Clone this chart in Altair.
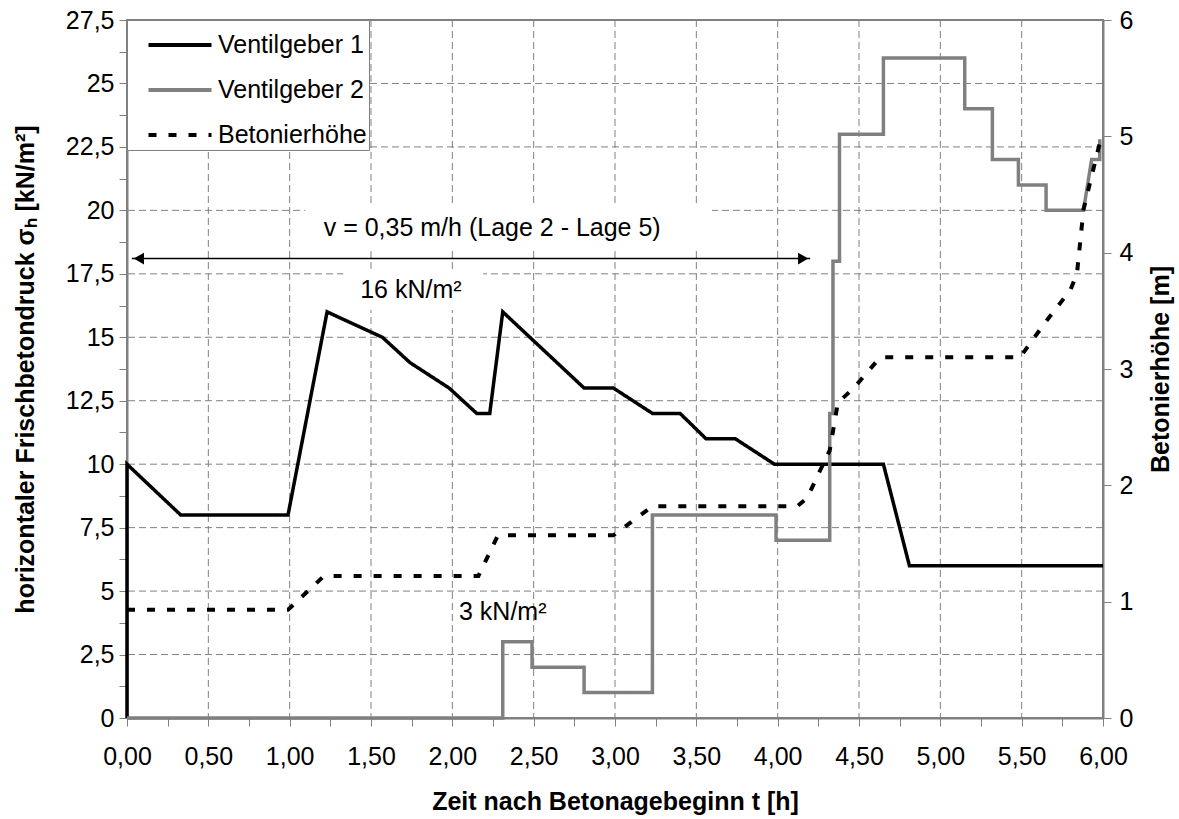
import altair as alt
import pandas as pd

# ---- data ----
v1_t = [0.0, 0.0, 0.33, 0.99, 1.23, 1.57, 1.74, 1.98, 2.15, 2.23, 2.31, 2.81, 2.99, 3.23, 3.40, 3.56, 3.74, 3.98, 4.65, 4.81, 6.0]
v1_p = [0, 10, 8, 8, 16, 15, 14, 13, 12, 12, 16, 13, 13, 12, 12, 11, 11, 10, 10, 6, 6]

v2_t = [0.0, 2.31, 2.31, 2.49, 2.49, 2.81, 2.81, 3.23, 3.23, 3.99, 3.99, 4.32, 4.32, 4.34, 4.34, 4.38, 4.38,
        4.65, 4.65, 5.15, 5.15, 5.32, 5.32, 5.48, 5.48, 5.65, 5.65, 5.88, 5.93, 5.98, 5.98]
v2_p = [0, 0, 3, 3, 2, 2, 1, 1, 8, 8, 7, 7, 12, 12, 18, 18, 23,
        23, 26, 26, 24, 24, 22, 22, 21, 21, 20, 20, 22, 22, 22.8]

b_t = [0.0, 0.99, 1.21, 2.16, 2.28, 2.99, 3.23, 4.12, 4.18, 4.32, 4.37, 4.47, 4.63, 5.49, 5.65, 5.80, 5.84, 5.88, 5.99]
b_h = [0.93, 0.93, 1.22, 1.22, 1.57, 1.57, 1.82, 1.82, 1.89, 2.30, 2.71, 2.84, 3.10, 3.10, 3.41, 3.68, 3.82, 4.37, 5.0]

series = ["Ventilgeber 1", "Ventilgeber 2", "Betonierhöhe"]

x_ticks = [i * 0.25 for i in range(25)]
y_ticks = [i * 1.25 for i in range(23)]
r_ticks = [0, 1, 2, 3, 4, 5, 6]
x_grid = [0.5, 1.0, 1.5, 2.0, 2.5, 3.0, 3.5, 4.0, 4.5, 5.0, 5.5]
y_grid = [2.5, 5, 7.5, 10, 12.5, 15, 17.5, 20, 22.5, 25]

ann_text = ["v = 0,35 m/h (Lage 2 - Lage 5)", "16 kN/m²", "3 kN/m²"]
ann_x = [2.245, 1.745, 2.31]
ann_y = [19.3, 16.85, 4.18]

# white label boxes behind the first two annotations (as in the reference)
box_x1 = [1.094, 1.33]
box_x2 = [3.596, 2.19]
box_y1 = [18.45, 16.07]
box_y2 = [20.2, 17.65]

arrow_x1 = [0.03]
arrow_x2 = [4.2]
arrow_y = [18.1]

# ---- tables ----
df_v = pd.DataFrame({
    "t": v1_t + v2_t,
    "p": v1_p + v2_p,
    "s": [series[0]] * len(v1_t) + [series[1]] * len(v2_t),
    "i": list(range(len(v1_t))) + list(range(len(v2_t))),
})
df_b = pd.DataFrame({"t": b_t, "h": b_h, "s": series[2], "i": list(range(len(b_t)))})
df_gx = pd.DataFrame({"t": x_grid})
df_gy = pd.DataFrame({"p": y_grid})
df_ann = pd.DataFrame({"t": ann_x, "p": ann_y, "txt": ann_text})
df_box = pd.DataFrame({"t": box_x1, "t2": box_x2, "p": box_y1, "p2": box_y2})
df_arrow = pd.DataFrame({"t": arrow_x1, "t2": arrow_x2, "p": arrow_y})

FONT = "Liberation Sans"
GRAY = "#808080"

xscale = alt.Scale(domain=[0, 6], nice=False, zero=False)
yscale = alt.Scale(domain=[0, 27.5], nice=False)
rscale = alt.Scale(domain=[0, 6], nice=False)

color = alt.Color("s:N", scale=alt.Scale(domain=series, range=["#000000", GRAY, "#000000"]),
                  legend=alt.Legend(title=None, orient="none", legendX=0, legendY=0,
                                    fillColor="white", strokeColor=GRAY, padding=2,
                                    symbolType="M-1.5,0H1.5", symbolSize=1764, symbolStrokeWidth=4,
                                    symbolOffset=28, labelOffset=15,
                                    labelFont=FONT, labelFontSize=25, labelColor="black",
                                    rowPadding=9, labelLimit=400))
dash = alt.StrokeDash("s:N", scale=alt.Scale(domain=series, range=[[1, 0], [1, 0], [8, 12]]),
                      legend=alt.Legend(title=None))

x_axis = alt.Axis(values=x_ticks, grid=False,
                  labelExpr="datum.value % 0.5 == 0 ? replace(format(datum.value, '.2f'), '.', ',') : ''",
                  title="Zeit nach Betonagebeginn t [h]", titlePadding=20,
                  tickSize=8, labelPadding=18, labelFlush=False, labelOverlap=False)
y_axis = alt.Axis(values=y_ticks, grid=False,
                  labelExpr="datum.value % 2.5 == 0 ? replace(toString(datum.value), '.', ',') : ''",
                  title="horizontaler Frischbetondruck σₕ [kN/m²]", titlePadding=27,
                  tickSize=8, labelPadding=5, labelOverlap=False, labelFlush=False)
r_axis = alt.Axis(values=r_ticks, grid=False, orient="right",
                  title="Betonierhöhe [m]", titleAngle=270, titleBaseline="top", titlePadding=16,
                  tickSize=8, labelPadding=8, labelFlush=False)

X = alt.X("t:Q", scale=xscale, axis=x_axis)
Y = alt.Y("p:Q", scale=yscale, axis=y_axis)

grid_v = alt.Chart(df_gx).mark_rule(color=GRAY, strokeWidth=1, strokeDash=[7, 4]).encode(x=X)
grid_h = alt.Chart(df_gy).mark_rule(color=GRAY, strokeWidth=1, strokeDash=[7, 4]).encode(y=Y)

boxes = alt.Chart(df_box).mark_rect(color="white", opacity=1).encode(
    x=X, x2="t2:Q", y=Y, y2="p2:Q")

lines_v = alt.Chart(df_v).mark_line(strokeWidth=3.5, strokeJoin="miter", strokeCap="butt").encode(
    x=X, y=Y, color=color, strokeDash=dash, order="i:Q")

arrow_line = alt.Chart(df_arrow).mark_rule(color="black", strokeWidth=1.5).encode(
    x=X, x2="t2:Q", y=Y)
arrow_l = alt.Chart(df_arrow).mark_point(shape="triangle-left", filled=True, color="black",
                                         size=140, opacity=1, xOffset=7).encode(x=X, y=Y)
arrow_r = alt.Chart(df_arrow).mark_point(shape="triangle-right", filled=True, color="black",
                                         size=140, opacity=1, xOffset=-7).encode(
    x=alt.X("t2:Q", scale=xscale, axis=x_axis), y=Y)

texts = alt.Chart(df_ann).mark_text(font=FONT, fontSize=25, color="black",
                                    align="center", baseline="middle").encode(
    x=X, y=Y, text="txt:N")

left = alt.layer(grid_v, grid_h, boxes, lines_v, arrow_line, arrow_l, arrow_r, texts)

lines_b = alt.Chart(df_b).mark_line(strokeWidth=4, strokeCap="butt").encode(
    x=X,
    y=alt.Y("h:Q", scale=rscale, axis=r_axis),
    color=color, strokeDash=dash, order="i:Q")

chart = alt.layer(left, lines_b).resolve_scale(y="independent").properties(
    width=976, height=698,
    autosize=alt.AutoSizeParams(type="none"),
    padding={"left": 127, "top": 20, "right": 76, "bottom": 101},
    background="white",
).configure_view(stroke=GRAY, strokeWidth=2).configure_axis(
    domainColor=GRAY, domainWidth=2, tickColor=GRAY, tickWidth=1,
    labelFont=FONT, labelFontSize=25, labelColor="black",
    titleFont=FONT, titleFontSize=25, titleFontWeight="bold", titleColor="black",
)

chart.save("out.html", embed_options={"renderer": "svg", "actions": False})
